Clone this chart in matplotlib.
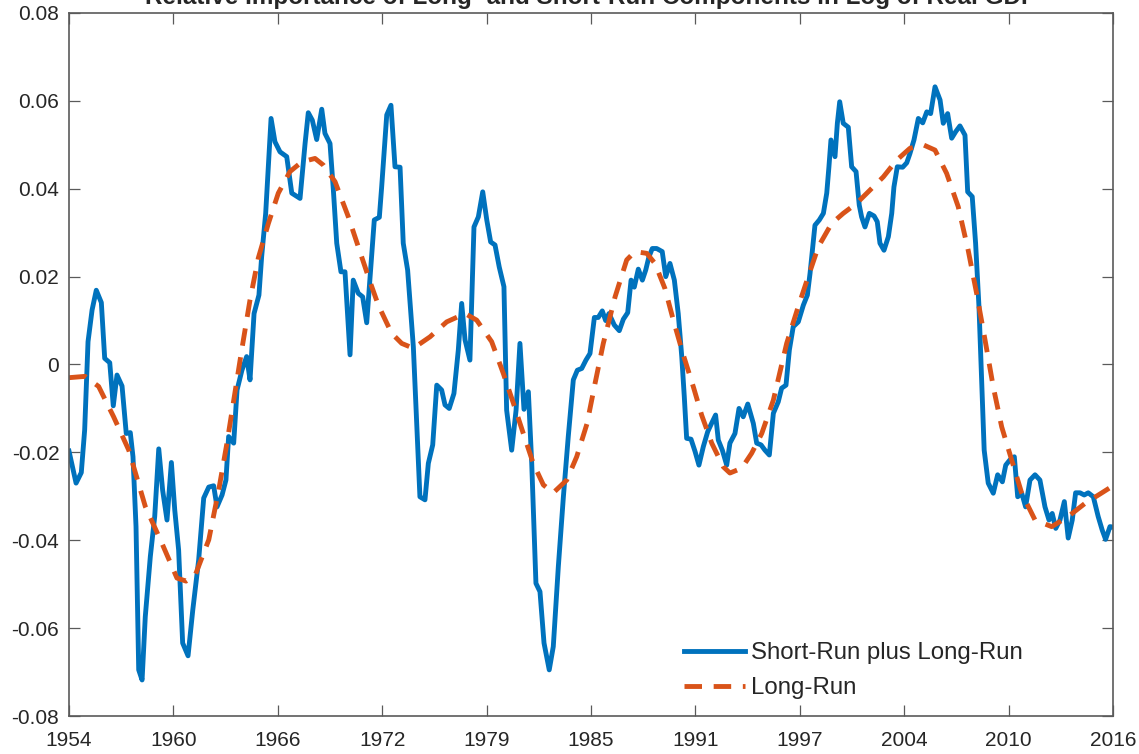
import matplotlib
matplotlib.use("Agg")
import matplotlib.pyplot as plt
import numpy as np

plt.rcParams['font.family'] = ['Liberation Sans', 'DejaVu Sans']

# Short-run plus long-run component (log real GDP deviation)
sr_years = [
    1954.00, 1954.42, 1954.73, 1954.93, 1955.13, 1955.37, 1955.62, 1955.92, 1956.12, 1956.42,
    1956.63, 1956.85, 1957.15, 1957.40, 1957.64, 1957.80, 1957.98, 1958.14, 1958.34, 1958.53,
    1958.83, 1959.09, 1959.33, 1959.56, 1959.82, 1960.08, 1960.28, 1960.51, 1960.75, 1961.07,
    1961.35, 1961.70, 1962.00, 1962.30, 1962.59, 1962.79, 1963.09, 1963.32, 1963.48, 1963.78,
    1963.98, 1964.27, 1964.55, 1964.75, 1964.99, 1965.28, 1965.44, 1965.68, 1966.00, 1966.23,
    1966.53, 1966.93, 1967.23, 1967.72, 1968.02, 1968.21, 1968.45, 1968.71, 1969.01, 1969.20,
    1969.50, 1969.70, 1969.90, 1970.15, 1970.39, 1970.69, 1970.88, 1971.18, 1971.44, 1971.68,
    1971.88, 1972.13, 1972.43, 1972.57, 1972.87, 1973.12, 1973.36, 1973.66, 1973.85, 1974.11,
    1974.45, 1974.65, 1974.84, 1975.14, 1975.34, 1975.60, 1975.84, 1976.13, 1976.33, 1976.58,
    1976.86, 1977.12, 1977.32, 1977.52, 1977.81, 1978.05, 1978.31, 1978.57, 1978.81, 1979.04,
    1979.30, 1979.55, 1979.83, 1979.99, 1980.29, 1980.55, 1980.78, 1981.02, 1981.28, 1981.48,
    1981.73, 1981.97, 1982.21, 1982.52, 1982.76, 1983.06, 1983.36, 1983.65, 1983.95, 1984.19,
    1984.45, 1984.70, 1984.94, 1985.20, 1985.43, 1985.67, 1985.87, 1986.07, 1986.38, 1986.68,
    1986.92, 1987.18, 1987.38, 1987.57, 1987.81, 1988.05, 1988.25, 1988.44, 1988.64, 1988.90,
    1989.23, 1989.44, 1989.69, 1989.95, 1990.18, 1990.39, 1990.54, 1990.68, 1990.94, 1991.18,
    1991.41, 1991.67, 1991.93, 1992.16, 1992.40, 1992.56, 1992.80, 1993.06, 1993.25, 1993.55,
    1993.79, 1994.04, 1994.31, 1994.64, 1994.84, 1995.10, 1995.33, 1995.59, 1995.83, 1996.12,
    1996.32, 1996.58, 1996.78, 1997.01, 1997.31, 1997.61, 1997.85, 1998.01, 1998.17, 1998.30,
    1998.56, 1998.80, 1999.00, 1999.13, 1999.25, 1999.49, 1999.63, 1999.77, 1999.98, 2000.28,
    2000.48, 2000.74, 2000.93, 2001.07, 2001.27, 2001.53, 2001.81, 2002.00, 2002.16, 2002.40,
    2002.66, 2002.86, 2002.99, 2003.19, 2003.51, 2003.75, 2003.94, 2004.18, 2004.44, 2004.70,
    2004.94, 2005.17, 2005.43, 2005.73, 2005.92, 2006.18, 2006.42, 2006.66, 2006.91, 2007.21,
    2007.37, 2007.64, 2007.84, 2008.04, 2008.20, 2008.35, 2008.59, 2008.89, 2009.15, 2009.43,
    2009.63, 2009.88, 2010.14, 2010.34, 2010.58, 2010.81, 2011.07, 2011.37, 2011.66, 2011.96,
    2012.20, 2012.39, 2012.60, 2012.85, 2013.11, 2013.34, 2013.58, 2013.78, 2014.04, 2014.29,
    2014.53, 2014.83, 2015.12, 2015.36, 2015.56, 2015.82, 2016.00,
]
sr_values = [
    -0.0197, -0.0270, -0.0246, -0.0149, 0.0052, 0.0124, 0.0169, 0.0141, 0.0014, 0.0004,
    -0.0094, -0.0024, -0.0049, -0.0157, -0.0155, -0.0210, -0.0369, -0.0695, -0.0718, -0.0574,
    -0.0437, -0.0346, -0.0192, -0.0286, -0.0354, -0.0223, -0.0331, -0.0422, -0.0634, -0.0663,
    -0.0559, -0.0445, -0.0304, -0.0279, -0.0276, -0.0324, -0.0297, -0.0263, -0.0164, -0.0179,
    -0.0058, -0.0013, 0.0018, -0.0035, 0.0116, 0.0158, 0.0245, 0.0344, 0.0560, 0.0507,
    0.0484, 0.0473, 0.0390, 0.0378, 0.0503, 0.0573, 0.0556, 0.0512, 0.0581, 0.0526,
    0.0503, 0.0397, 0.0276, 0.0211, 0.0211, 0.0022, 0.0192, 0.0162, 0.0154, 0.0095,
    0.0200, 0.0329, 0.0335, 0.0405, 0.0568, 0.0590, 0.0450, 0.0449, 0.0276, 0.0215,
    0.0040, -0.0134, -0.0301, -0.0308, -0.0225, -0.0183, -0.0047, -0.0058, -0.0092, -0.0100,
    -0.0066, 0.0033, 0.0139, 0.0056, 0.0010, 0.0313, 0.0336, 0.0393, 0.0329, 0.0279,
    0.0272, 0.0222, 0.0177, -0.0104, -0.0195, -0.0104, 0.0048, -0.0102, -0.0062, -0.0225,
    -0.0498, -0.0517, -0.0634, -0.0695, -0.0642, -0.0460, -0.0301, -0.0164, -0.0035, -0.0013,
    -0.0009, 0.0010, 0.0025, 0.0107, 0.0107, 0.0122, 0.0100, 0.0116, 0.0090, 0.0077,
    0.0103, 0.0118, 0.0192, 0.0176, 0.0217, 0.0192, 0.0215, 0.0245, 0.0264, 0.0264,
    0.0257, 0.0200, 0.0230, 0.0192, 0.0116, 0.0018, -0.0073, -0.0168, -0.0170, -0.0198,
    -0.0229, -0.0187, -0.0153, -0.0134, -0.0115, -0.0172, -0.0195, -0.0229, -0.0179, -0.0157,
    -0.0100, -0.0119, -0.0090, -0.0134, -0.0179, -0.0183, -0.0195, -0.0206, -0.0111, -0.0085,
    -0.0054, -0.0047, 0.0033, 0.0086, 0.0097, 0.0135, 0.0158, 0.0208, 0.0268, 0.0317,
    0.0329, 0.0344, 0.0390, 0.0450, 0.0511, 0.0473, 0.0549, 0.0598, 0.0549, 0.0540,
    0.0450, 0.0439, 0.0363, 0.0336, 0.0313, 0.0344, 0.0338, 0.0325, 0.0276, 0.0260,
    0.0291, 0.0344, 0.0404, 0.0450, 0.0449, 0.0459, 0.0480, 0.0511, 0.0560, 0.0550,
    0.0575, 0.0571, 0.0632, 0.0602, 0.0549, 0.0571, 0.0515, 0.0530, 0.0543, 0.0522,
    0.0393, 0.0382, 0.0276, 0.0132, -0.0035, -0.0195, -0.0270, -0.0293, -0.0251, -0.0267,
    -0.0229, -0.0217, -0.0210, -0.0301, -0.0293, -0.0324, -0.0263, -0.0251, -0.0263, -0.0324,
    -0.0354, -0.0339, -0.0373, -0.0354, -0.0312, -0.0395, -0.0354, -0.0292, -0.0292, -0.0297,
    -0.0292, -0.0301, -0.0346, -0.0377, -0.0398, -0.0369, -0.0370,
]

# Long-run component alone
lr_years = [
    1954.00, 1954.95, 1955.76, 1956.65, 1957.55, 1958.53, 1959.52, 1960.41, 1960.95, 1961.50,
    1962.30, 1962.89, 1963.38, 1963.88, 1964.24, 1964.75, 1965.24, 1965.84, 1966.43, 1967.12,
    1967.82, 1968.61, 1969.10, 1969.80, 1970.59, 1971.18, 1971.88, 1972.37, 1973.16, 1973.76,
    1974.45, 1975.44, 1976.43, 1977.52, 1978.21, 1979.10, 1979.79, 1980.39, 1980.98, 1981.57,
    1982.17, 1982.76, 1983.56, 1984.15, 1984.76, 1985.24, 1985.73, 1986.43, 1987.12, 1987.61,
    1988.31, 1988.80, 1989.39, 1989.89, 1990.48, 1991.08, 1991.57, 1992.17, 1992.86, 1993.25,
    1993.95, 1994.54, 1995.14, 1995.83, 1996.62, 1997.31, 1997.90, 1998.50, 1999.29, 1999.98,
    2000.78, 2001.57, 2002.36, 2003.15, 2003.94, 2004.73, 2005.43, 2006.12, 2006.81, 2007.40,
    2007.90, 2008.40, 2008.89, 2009.39, 2009.98, 2010.58, 2011.37, 2012.36, 2013.34, 2014.34,
    2015.30, 2016.00,
]
lr_values = [
    -0.0030, -0.0027, -0.0050, -0.0119, -0.0195, -0.0323, -0.0407, -0.0486, -0.0493, -0.0479,
    -0.0399, -0.0286, -0.0179, -0.0058, 0.0029, 0.0147, 0.0242, 0.0321, 0.0390, 0.0439,
    0.0461, 0.0469, 0.0454, 0.0416, 0.0336, 0.0268, 0.0188, 0.0135, 0.0071, 0.0048,
    0.0037, 0.0063, 0.0097, 0.0116, 0.0101, 0.0052, -0.0020, -0.0088, -0.0157, -0.0225,
    -0.0274, -0.0292, -0.0263, -0.0210, -0.0135, -0.0043, 0.0048, 0.0154, 0.0238, 0.0257,
    0.0253, 0.0230, 0.0173, 0.0101, 0.0022, -0.0051, -0.0115, -0.0179, -0.0233, -0.0247,
    -0.0236, -0.0202, -0.0157, -0.0081, 0.0048, 0.0132, 0.0200, 0.0268, 0.0321, 0.0344,
    0.0367, 0.0397, 0.0427, 0.0465, 0.0492, 0.0500, 0.0488, 0.0435, 0.0359, 0.0260,
    0.0162, 0.0056, -0.0051, -0.0142, -0.0217, -0.0293, -0.0354, -0.0369, -0.0346, -0.0316,
    -0.0293, -0.0276,
]

tick_labels = ['1954', '1960', '1966', '1972', '1979', '1985',
               '1991', '1997', '2004', '2010', '2016']
y_ticks = [-0.08, -0.06, -0.04, -0.02, 0, 0.02, 0.04, 0.06, 0.08]
y_tick_labels = ['-0.08', '-0.06', '-0.04', '-0.02', '0',
                 '0.02', '0.04', '0.06', '0.08']

blue = '#0072BD'
orange = '#D95319'
axis_gray = '#5a5a5a'
text_dark = '#262626'

fig = plt.figure(figsize=(11.39, 7.54), dpi=100)
ax = fig.add_axes([69 / 1139, 1 - 716 / 754, (1113 - 69) / 1139, (716 - 13) / 754])

ax.plot(sr_years, sr_values, color=blue, linewidth=3.5,
        solid_joinstyle='round', label='Short-Run plus Long-Run')
ax.plot(lr_years, lr_values, color=orange, linewidth=3.5,
        dashes=(3.6, 2.4), label='Long-Run')

ax.set_xlim(1954, 2016)
ax.set_ylim(-0.08, 0.08)
ax.set_xticks(np.linspace(1954, 2016, len(tick_labels)))
ax.set_xticklabels(tick_labels)
ax.set_yticks(y_ticks)
ax.set_yticklabels(y_tick_labels)

for side in ['left', 'right', 'top', 'bottom']:
    ax.spines[side].set_color(axis_gray)
    ax.spines[side].set_linewidth(1.2)
ax.tick_params(direction='in', length=8, width=0.9, color=axis_gray,
               top=True, right=True, labelsize=15, labelcolor=text_dark)
ax.tick_params(axis='x', pad=11)
ax.tick_params(axis='y', pad=7)

leg = ax.legend(loc='upper left', bbox_to_anchor=((684 - 69) / 1044, (716 - 642) / 703),
                frameon=False, fontsize=17.3, handlelength=2.55, handletextpad=0.25,
                labelspacing=0.55, borderpad=0, borderaxespad=0)
for t in leg.get_texts():
    t.set_color(text_dark)

fig.text((69 + 1113) / 2 / 1139, 1 - 4 / 754,
         'Relative Importance of Long- and Short-Run Components in Log of Real GDP',
         ha='center', va='baseline', fontsize=17.5, fontweight='bold', color=text_dark)

fig.savefig('out.png', dpi=100)
